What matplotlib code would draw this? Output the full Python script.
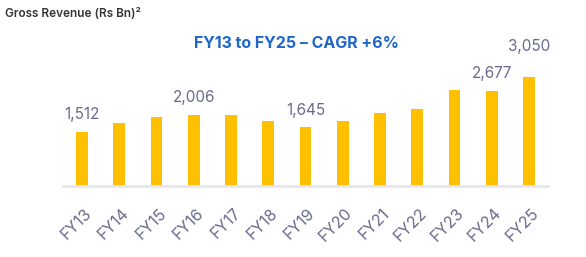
import matplotlib
matplotlib.use("Agg")
import matplotlib.pyplot as plt
import matplotlib.transforms as mtransforms

years = ["FY13", "FY14", "FY15", "FY16", "FY17", "FY18", "FY19",
         "FY20", "FY21", "FY22", "FY23", "FY24", "FY25"]
revenue = [1512, 1764, 1932, 2006, 1988, 1820, 1645,
           1820, 2044, 2156, 2690, 2677, 3050]
labelled = ["FY13", "FY16", "FY19", "FY24", "FY25"]

BAR = "#FFC000"
GREY = "#6A6A8E"
BLUE = "#1F66C8"

plt.rcParams["font.family"] = ["Inter", "DejaVu Sans"]

fig = plt.figure(figsize=(5.86, 2.57), dpi=100)
ax = fig.add_axes([63 / 586, 1 - 186 / 257, (548 - 63) / 586, 126 / 257])

x = range(len(years))
ax.bar(x, revenue, width=0.32, color=BAR, zorder=2)
ax.set_xlim(-0.51, len(years) - 0.49)
ax.set_ylim(0, 3536)

for i, (yr, v) in enumerate(zip(years, revenue)):
    if yr in labelled:
        off = 17 if yr == "FY25" else 7
        ax.annotate(f"{v:,}", (i, v), xytext=(0, off), textcoords="offset points",
                    ha="center", va="bottom", fontsize=11, color=GREY)

for s in ["top", "right", "left"]:
    ax.spines[s].set_visible(False)
ax.spines["bottom"].set_color("#E6E6EE")
ax.spines["bottom"].set_linewidth(2)
ax.set_yticks([])
ax.set_xticks(list(x))
ax.set_xticklabels(years, rotation=45, ha="right", rotation_mode="anchor",
                   fontsize=11.5, color=GREY)
ax.tick_params(axis="x", length=0, pad=14)
offset = mtransforms.ScaledTranslation(2 / 100, 0, fig.dpi_scale_trans)
for lab in ax.get_xticklabels():
    lab.set_transform(lab.get_transform() + offset)

fig.text(5 / 586, 1 - 14 / 257, "Gross Revenue (Rs Bn)\u00b2", fontsize=8.5,
         fontweight="semibold", color="#333333", va="center", ha="left")
fig.text(296 / 586, 1 - 43 / 257, "FY13 to FY25 \u2013 CAGR +6%", fontsize=11.5,
         fontweight="bold", color=BLUE, va="center", ha="center")

fig.savefig("out.png", dpi=100)
